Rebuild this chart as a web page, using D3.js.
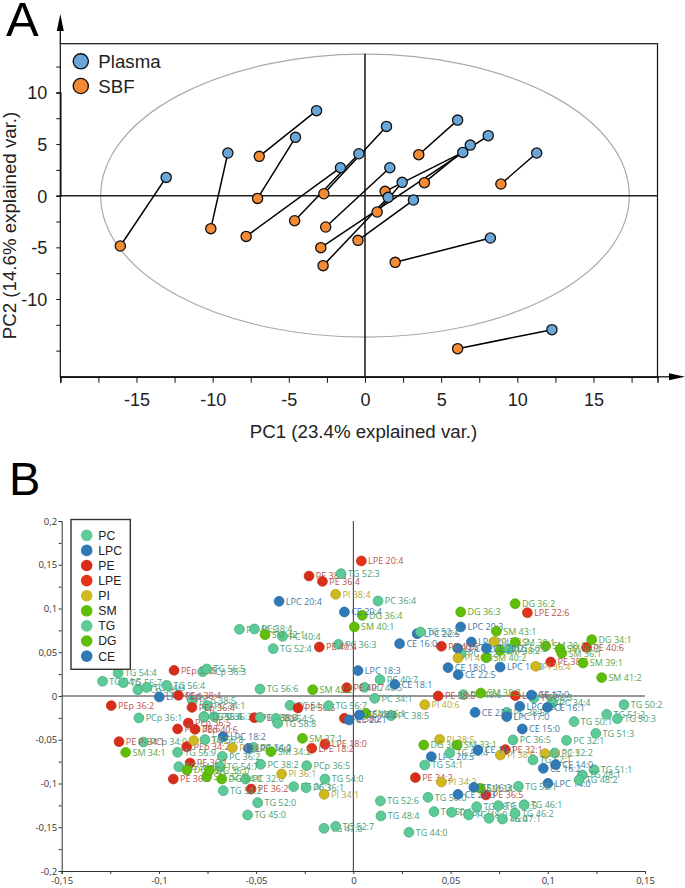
<!DOCTYPE html>
<html><head><meta charset="utf-8">
<script src="https://cdn.jsdelivr.net/npm/d3@7"></script>
<style>html,body{margin:0;padding:0;background:#fff}svg{display:block}</style></head>
<body><svg id="c" width="685" height="888"></svg>
<script>
// ---- Panel A data: paired samples (PC1, PC2) ----
const plasmaPC1 = [-13.05,-9.0,-4.56,-3.18,-1.61,-0.40,1.41,1.63,2.44,1.52,3.18,6.08,6.42,6.91,8.09,8.23,11.27,12.27];
const plasmaPC2 = [1.77,4.13,5.65,8.23,2.71,4.06,6.71,2.71,1.29,-0.16,-0.42,7.32,4.19,4.90,5.81,-4.10,4.13,-12.97];
const sbfPC1 = [-16.06,-10.12,-7.05,-6.94,-7.80,-4.62,-2.70,-2.58,0.80,-2.75,-0.46,3.53,1.32,3.90,-2.90,1.98,8.92,6.08];
const sbfPC2 = [-4.87,-3.19,-0.26,3.81,-3.94,-2.42,0.19,-3.03,-1.58,-6.77,-4.32,3.97,0.42,1.26,-5.03,-6.45,1.13,-14.81];
const groupsA = ["Plasma","SBF"];
const ellipseRadii = [17.35,13.7];
const xTicksA = [-15,-10,-5,0,5,10,15];
const yTicksA = [-10,-5,0,5,10];
// ---- Panel B data: loadings [label, x, y] per lipid class ----
const pc = [["PC 40:5",-.0586,.0762],["PC 38:4",-.0509,.0766],["PC 40:4",-.0364,.0682],["PC 36:3",-.0077,.059],["PC 40:5",.0057,.0099],["PC 36:4",.0127,.1086],["PC 40:7",.0137,.0187],["PC 38:3",.0554,.048],["PC 40:6",.0566,.0015],["PC 34:1",.011,-.0027],["PC 38:5",.0194,-.0225],["PC 36:5",.0821,-.0503],["PC 32:1",.1096,-.0507],["PC 32:2",.1036,-.0651],["PC 34:4",.1024,-.0072],["PC 36:2",-.0674,-.069],["PC 38:2",-.0477,-.0781],["PCp 36:5",-.024,-.0796],["PC 32:0",-.0554,-.0949],["PC 36:1",-.0307,-.1036],["PC 36:1",-.0243,-.1048],["PC 34:2",-.0514,-.0587],["PCp 36:1",-.1103,-.0251],["PCp 34:0",-.1079,-.0526],["PCp 38:5",-.0828,-.0053],["PCp 36:3",-.0775,.0278],["PCp 38:4",-.1108,.0072],["PC 34:1",-.0751,-.011],["PC 36:4",-.0768,-.0236],["PC 36:3",-.0715,-.0236],["PC 54:4",-.0326,-.0107],["PC 38:5",.0789,-.0187]];
const lpc = [["LPC 20:4",-.0382,.1082],["LPC 18:3",.0024,.029],["LPC 20:3",.0552,.0789],["LPC 22:5",.0328,.0712],["LPC 20:2",.0607,.0617],["LPC 16:0",.0755,.0331],["LPC 22:6",.0537,.0545],["LPC 18:0",-.0998,-.0011],["LPC 18:2",-.067,-.0465],["LPC 16:0",-.054,-.0598],["LPC 17:0",.0789,-.0236],["LPC 18:1",.0856,-.0118],["LPC 20:5",.0401,-.0693],["LPC 14:0",.1001,-.0998]];
const pe = [["PE 38:4",-.0228,.1371],["PE 36:4",-.0159,.131],["PE 40:4",-.0175,.056],["PE 40:7",-.0034,.0095],["PE 40:5",.0453,.0568],["PE 38:5",.0436,0],["PE 40:6",.1199,.0556],["PE 38:6",.1015,.0389],["PEp 36:5",-.0922,.0293],["PEp 38:4",-.09,.0008],["PEp 36:2",-.1245,-.011],["PE P-34:1",-.1205,-.0522],["PEp 36:4",-.083,-.013],["PEp 36:5",-.0849,-.0309],["PEp 38:6",-.0904,-.0377],["PEp 40:6",-.0814,-.0381],["PEp 34:2",-.0857,-.0579],["PE 36:1",-.084,-.0766],["PE 36:3",-.0926,-.0949],["PEp 38:6",-.0509,-.0248],["PE 38:5",-.0285,-.0137],["PE 38:2",-.0046,-.0255],["PE 36:2",-.0526,-.1063],["PE 32:1",.0782,-.0613],["PE 34:2",.0319,-.0933],["PE 36:5",.0682,-.1131]];
const lpe = [["LPE 20:4",.0041,.1543],["LPE 22:6",.0895,.0952],["LPE 16:0",.0833,.0004],["LPE 18:0",-.0146,-.0549],["LPE 18:2",-.0214,-.0598]];
const pi = [["PI 38:4",-.0091,.1162],["PI 38:2",.0725,.0621],["PI 40:5",.0538,.0434],["PI 36:4",.0938,.0339],["PI 34:2",-.0821,-.051],["PI 36:2",-.0622,-.059],["PI 36:1",-.0369,-.0891],["PI 34:1",-.015,-.1124],["PI 40:6",.0367,-.0099],["PI 38:5",.0444,-.0495],["PI 38:6",.0756,-.0674],["PI 34:2",.0453,-.0983],["PI 32:1",.0986,-.0659]];
const sm = [["SM 40:1",.0005,.0789],["SM 42:1",-.0454,.0701],["SM 42:2",-.0209,.0072],["SM 43:1",.0736,.0739],["SM 40:2",.0684,.0438],["SM 38:2",.0756,.0522],["SM 38:3",.0655,.0034],["SM 38:1",.0989,.0571],["SM 38:1",.0832,.0613],["SM 36:2",.1063,.0537],["SM 36:1",.1072,.0488],["SM 39:1",.1181,.0377],["SM 41:2",.1277,.021],["SM 34:1",-.1171,-.0644],["SM 37:1",-.0262,-.0484],["SM 34:2",-.0424,-.0636],["SM 36:1",.0065,-.0198],["SM 33:1",.0533,-.056],["SM 34:1",.0653,-.1055],["SM 32:1",-.0754,-.0922]];
const tg = [["TG 54:4",-.121,.0263],["TG 54:5",-.129,.0168],["TG 56:7",-.1183,.0152],["TG 54:3",-.1063,.0099],["TG 56:4",-.096,.0122],["TG 56:5",-.0754,.0309],["TG 52:3",-.0063,.1398],["TG 52:4",-.0412,.0541],["TG 56:6",-.048,.008],["TG 52:2",.0345,.0731],["TG 50:5",.08,.0537],["TG 56:3",.0929,-.0023],["TG 58:6",-.0768,-.0236],["TG 56:8",-.0763,-.0499],["TG 56:9",-.0904,-.0644],["TG 54:6",-.0898,-.0808],["TG 56:4",-.048,-.0244],["TG 54:5",-.0398,-.0255],["TG 58:8",-.0389,-.0312],["TG 56:7",-.0127,-.011],["TG 54:7",-.0686,-.0808],["TG 54:0",-.0146,-.0949],["TG 54:2",-.0669,-.1082],["TG 52:0",-.0492,-.1219],["TG 45:0",-.0544,-.136],["TG 47:0",-.0151,-.1512],["TG 52:7",-.0091,-.149],["TG 53:4",.0496,-.0651],["TG 54:1",.0367,-.0789],["TG 50:0",.0384,-.1158],["TG 52:6",.0139,-.12],["TG 48:4",.0142,-.1371],["TG 44:0",.0286,-.1558],["TG 50:1",.0415,-.1322],["TG 50:2",.0506,-.133],["TG 48:0",.0593,-.136],["TG 48:3",.0634,-.1265],["TG 46:0",.0698,-.1398],["TG 48:5",.0746,-.1253],["TG 47:1",.0767,-.1406],["TG 58:1",.0849,-.1032],["TG 46:1",.0878,-.1242],["TG 46:2",.0832,-.1341],["TG 50:2",.1392,-.0099],["TG 51:2",.1303,-.021],["TG 50:3",.1358,-.0259],["TG 50:1",.1135,-.0293],["TG 51:3",.1247,-.0427],["TG 52:1",.0924,-.0731],["TG 51:1",.1238,-.0842],["TG 48:1",.1178,-.0903],["TG 48:2",.1161,-.096]];
const dg = [["DG 36:4",.0046,.0922],["DG 36:3",.0552,.096],["DG 36:2",.0832,.1055],["DG 34:1",.1226,.0644],["DG 36:1",-.0856,-.0846],["DG 36:0",-.0741,-.0853],["DG 34:0",-.0677,-.0949],["DG 36:1",.0362,-.056]];
const ce = [["CE 20:4",-.0046,.096],["CE 16:0",.0238,.0598],["CE 20:2",.0684,.0545],["CE 18:0",.0487,.0324],["CE 22:5",.0539,.0244],["CE 18:1",.0213,.0133],["CE 17:0",.0916,.0011],["CE 20:1",-.0022,-.0274],["CE 18:2",.0031,-.0217],["CE 22:6",.0626,-.0187],["CE 15:0",.0869,-.0377],["CE 16:1",.0641,-.0617],["CE 16:3",.062,-.1044],["CE 20:3",.0538,-.1124],["CE 16:1",.0998,-.013],["CE 14:0",.104,-.0785],["CE 16:2",.0977,-.0827]];
const classNames = ["PC","LPC","PE","LPE","PI","SM","TG","DG","CE"];
const classRows = [pc,lpc,pe,lpe,pi,sm,tg,dg,ce];
const classFill = ["#5ccb98","#2f7ab6","#d92d1b","#e5321a","#cfb91e","#5fbf06","#5ccb98","#5fbf06","#2f7ab6"];
const classStroke = ["#46ab7d","#2a6c9f","#c4301f","#c4301f","#b3a021","#55a80c","#46ab7d","#55a80c","#2a6c9f"];
const classText = ["#4b9e7a","#3f77a6","#b9524c","#b9524c","#b3a63f","#5aa63e","#4b9e7a","#5aa63e","#3f77a6"];
const xTicksB = [-0.15,-0.1,-0.05,0,0.05,0.1,0.15];
const yTicksB = [-0.2,-0.15,-0.1,-0.05,0,0.05,0.1,0.15,0.2];
const minorB = [-0.175,-0.125,-0.075,-0.025,0.025,0.075,0.125,0.175];

const SANS = "'Liberation Sans',Arial,sans-serif", OPEN = "'Open Sans',sans-serif";
const svg = d3.select("#c");
const sup = (n)=>{ return String(n).replace('.',','); };

// ================= Panel A =================
svg.append("text").text("A").attr("x",6).attr("y",36).attr("font-family",SANS).attr("font-size",49).attr("fill","#000");
const ax = d3.scaleLinear().domain([-20,19.2]).range([60.3,657.5]);
const ay = d3.scaleLinear().domain([0,10]).range([195.7,92.4]);
const aTop = 43.7, aBottom = 376.8;
const A = svg.append("g");
A.append("rect").attr("x",ax(-20)).attr("y",aTop).attr("width",ax(19.2)-ax(-20)).attr("height",aBottom-aTop).attr("fill","none").attr("stroke","#111").attr("stroke-width",1.2);
A.append("ellipse").attr("cx",ax(0)).attr("cy",ay(0)).attr("rx",ax(ellipseRadii[0])-ax(0)).attr("ry",ay(0)-ay(ellipseRadii[1])).attr("fill","none").attr("stroke","#aaa").attr("stroke-width",1.2);
A.append("line").attr("x1",ax(-20)).attr("x2",ax(19.2)).attr("y1",ay(0)).attr("y2",ay(0)).attr("stroke","#222").attr("stroke-width",1.6);
A.append("line").attr("x1",ax(0)).attr("x2",ax(0)).attr("y1",aTop+10).attr("y2",aBottom).attr("stroke","#222").attr("stroke-width",1.6);
// axes
const axB = A.append("g").attr("transform",`translate(0,${aBottom})`).call(d3.axisBottom(ax).tickValues(d3.range(-20,20,2.5)).tickSize(6).tickFormat(d=>xTicksA.includes(d)?d:""));
const ayL = A.append("g").attr("transform",`translate(${ax(-20)},0)`).call(d3.axisLeft(ay).tickValues(d3.range(-15,15,2.5)).tickSize(4).tickFormat(d=>yTicksA.includes(d)?d:""));
[axB,ayL].forEach(g=>{g.select(".domain").attr("stroke","#111").attr("stroke-width",1.5);g.selectAll("line").attr("stroke","#111").attr("stroke-width",1);g.selectAll("text").attr("font-family",SANS).attr("font-size",18).attr("fill","#222");});
axB.selectAll("text").attr("dy",0).attr("y",29);
ayL.selectAll("text").attr("x",-13).attr("dy","0.35em");
// arrows
A.append("line").attr("x1",ax(-20)).attr("x2",ax(-20)).attr("y1",aTop).attr("y2",22).attr("stroke","#111").attr("stroke-width",1.3);
A.append("line").attr("x1",ax(19.2)).attr("x2",672).attr("y1",aBottom).attr("y2",aBottom).attr("stroke","#111").attr("stroke-width",1.3);
A.append("path").attr("d",d3.line()([[ax(-20)-3.5,31],[ax(-20)+3.5,31],[ax(-20),14]])+"Z").attr("fill","#000");
A.append("path").attr("d",d3.line()([[669,aBottom-3.5],[669,aBottom+3.5],[685,aBottom]])+"Z").attr("fill","#000");
A.append("text").text("PC1 (23.4% explained var.)").attr("x",363.5).attr("y",438).attr("text-anchor","middle").attr("font-family",SANS).attr("font-size",18.7).attr("fill","#222");
A.append("text").text("PC2 (14.6% explained var.)").attr("transform","translate(15.5,225.5) rotate(-90)").attr("text-anchor","middle").attr("font-family",SANS).attr("font-size",18.7).attr("fill","#222");
// pairs
A.append("g").selectAll("line").data(plasmaPC1).join("line")
 .attr("x1",(d,i)=>ax(plasmaPC1[i])).attr("y1",(d,i)=>ay(plasmaPC2[i])).attr("x2",(d,i)=>ax(sbfPC1[i])).attr("y2",(d,i)=>ay(sbfPC2[i]))
 .attr("stroke","#000").attr("stroke-width",1.5);
const colA = d3.scaleOrdinal().domain(groupsA).range(["#6aa6d8","#f58a34"]);
A.append("g").selectAll("circle").data(sbfPC1).join("circle").attr("cx",(d,i)=>ax(sbfPC1[i])).attr("cy",(d,i)=>ay(sbfPC2[i])).attr("r",5.1).attr("fill",colA("SBF")).attr("stroke","#111").attr("stroke-width",1.3);
A.append("g").selectAll("circle").data(plasmaPC1).join("circle").attr("cx",(d,i)=>ax(plasmaPC1[i])).attr("cy",(d,i)=>ay(plasmaPC2[i])).attr("r",5.1).attr("fill",colA("Plasma")).attr("stroke","#111").attr("stroke-width",1.3);
const legA = A.append("g").selectAll("g").data(groupsA).join("g").attr("transform",(d,i)=>`translate(80.8,${61.3+i*24.7})`);
legA.append("circle").attr("r",7.6).attr("fill",d=>colA(d)).attr("stroke","#111").attr("stroke-width",1.4);
legA.append("text").text(d=>d).attr("x",17.5).attr("dy","0.36em").attr("font-family",SANS).attr("font-size",18.7).attr("fill","#222");

// ================= Panel B =================
svg.append("text").text("B").attr("x",9).attr("y",495).attr("font-family",SANS).attr("font-size",47).attr("fill","#000");
const bx = d3.scaleLinear().domain([-0.15,0.15]).range([61.7,645]);
const by = d3.scaleLinear().domain([-0.2,0.2]).range([871,521]);
const B = svg.append("g");
const bxA = B.append("g").attr("transform",`translate(0,${by(-0.2)})`).call(d3.axisBottom(bx).tickValues(d3.range(-6,7).map(k=>k*0.025)).tickSize(3).tickFormat(d=>{const r=Math.round(d*100)/100;return xTicksB.includes(r)&&Math.abs(d-r)<1e-6?sup(r):"";}));
const byA = B.append("g").attr("transform",`translate(${bx(-0.15)},0)`).call(d3.axisLeft(by).tickValues(yTicksB.concat(minorB)).tickSize(3).tickFormat(d=>yTicksB.includes(d)?sup(d):""));
[bxA,byA].forEach(g=>{g.select(".domain").attr("stroke","#333").attr("stroke-width",1);g.selectAll("line").attr("stroke","#333");g.selectAll("text").attr("font-family",OPEN).attr("font-size",9.5).attr("fill","#333");});
bxA.selectAll("text").attr("y",6).attr("dy","0.71em");
byA.selectAll("text").attr("x",-4.5);
B.append("line").attr("x1",bx(-0.15)).attr("x2",bx(0.15)).attr("y1",by(0)).attr("y2",by(0)).attr("stroke","#333");
B.append("line").attr("x1",bx(0)).attr("x2",bx(0)).attr("y1",by(0.2)).attr("y2",by(-0.2)).attr("stroke","#333");
const flat = classRows.flatMap((rows,c)=>rows.map(r=>({label:r[0],x:r[1],y:r[2],c})));
const pts = B.append("g").selectAll("g").data(flat).join("g").attr("transform",d=>`translate(${bx(d.x)},${by(d.y)})`);
pts.append("circle").attr("r",4.9).attr("fill",d=>classFill[d.c]).attr("stroke",d=>classStroke[d.c]).attr("stroke-width",.8);
pts.append("text").text(d=>d.label).attr("x",6.8).attr("dy","0.36em").attr("font-family",OPEN).attr("font-size",9).attr("fill",d=>classText[d.c]);
const lb = B.append("g");
lb.append("rect").attr("x",71).attr("y",519.5).attr("width",59.3).attr("height",149.8).attr("fill","#fff").attr("stroke","#333").attr("stroke-width",1.4);
const legB = lb.selectAll("g").data(classNames).join("g").attr("transform",(d,i)=>`translate(86.7,${535.3+i*15.1})`);
legB.append("circle").attr("r",5.8).attr("fill",(d,i)=>classFill[i]);
legB.append("text").text(d=>d).attr("x",11.6).attr("dy","0.36em").attr("font-family",SANS).attr("font-size",12.2).attr("fill","#222");
</script></body></html>
